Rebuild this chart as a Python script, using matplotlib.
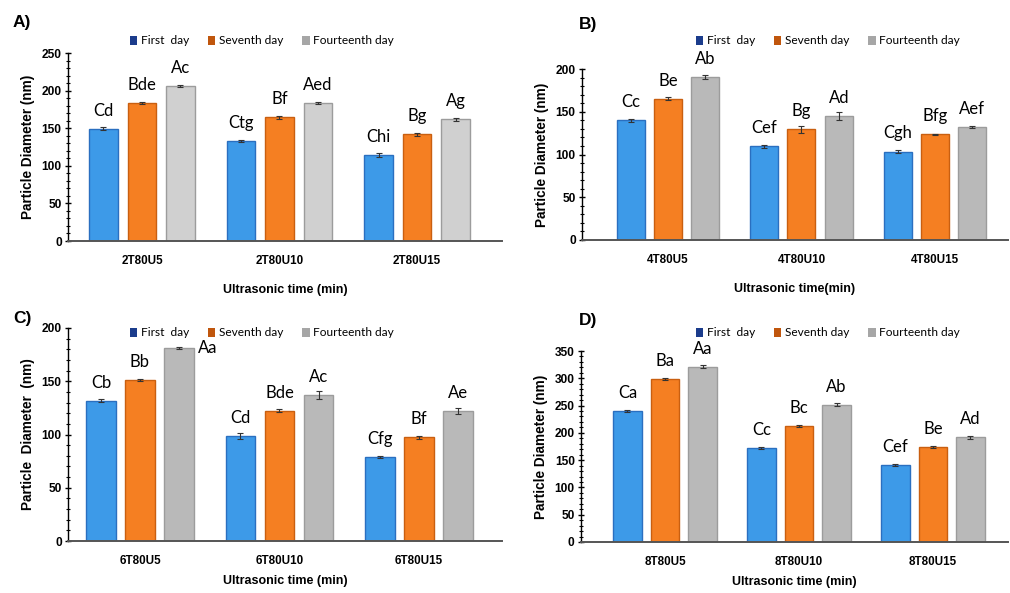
import matplotlib
matplotlib.use("Agg")
import matplotlib.pyplot as plt
from matplotlib.patches import Patch
from matplotlib.ticker import MultipleLocator
import numpy as np

plt.rcParams['font.family'] = ['Liberation Sans', 'DejaVu Sans']

days = ['First  day', 'Seventh day', 'Fourteenth day']

cats_a = ['2T80U5', '2T80U10', '2T80U15']
vals_a = [[149, 132.8, 114.6], [183.4, 164.3, 141.7], [206, 183.4, 161.6]]
errs_a = [[2, 1, 3], [1.5, 1.5, 2.5], [1.5, 1.5, 1.5]]
lets_a = [['Cd', 'Ctg', 'Chi'], ['Bde', 'Bf', 'Bg'], ['Ac', 'Aed', 'Ag']]

cats_b = ['4T80U5', '4T80U10', '4T80U15']
vals_b = [[139.8, 109.4, 103.5], [165.2, 129.7, 123.4], [190.6, 144.9, 132]]
errs_b = [[1.5, 1.5, 2], [1.5, 4, 1], [2, 5, 1.5]]
lets_b = [['Cc', 'Cef', 'Cgh'], ['Be', 'Bg', 'Bfg'], ['Ab', 'Ad', 'Aef']]

cats_c = ['6T80U5', '6T80U10', '6T80U15']
vals_c = [[131.7, 98.7, 79], [150.8, 122.3, 97.5], [181.2, 137.3, 122.3]]
errs_c = [[1.5, 3, 1], [1, 1.5, 1.5], [1, 4, 3]]
lets_c = [['Cb', 'Cd', 'Cfg'], ['Bb', 'Bde', 'Bf'], ['Aa', 'Ac', 'Ae']]

cats_d = ['8T80U5', '8T80U10', '8T80U15']
vals_d = [[240.2, 172, 141.5], [299.4, 212.8, 173.8], [321.3, 251.8, 191.5]]
errs_d = [[2, 2, 2], [2, 2, 2], [3, 2, 2]]
lets_d = [['Ca', 'Cc', 'Cef'], ['Ba', 'Bc', 'Be'], ['Aa', 'Ab', 'Ad']]

bar_cols = ['#3d9ae8', '#f57f22', '#b9b9b9']
edge_cols = ['#2a6fc0', '#c95f10', '#9c9c9c']
leg_cols = ['#1b3c8c', '#c0560d', '#a6a6a6']

fig = plt.figure(figsize=(10.1, 5.93), dpi=100)

W, H = 1010, 593

def make_panel(rect, tag, tagpos, cats, vals, errs, lets, ymax, xlim, xlab,
               ylab, legpos, gray=None, side=(), xpad=12):
    l, t, r, b = rect
    ax = fig.add_axes([l / W, 1 - b / H, (r - l) / W, (b - t) / H])
    x = np.arange(len(cats))
    w, off = 0.21, 0.28
    for i in range(3):
        fc = bar_cols[i] if (i < 2 or gray is None) else gray
        pos = x + (i - 1) * off
        ax.bar(pos, vals[i], w, color=fc, edgecolor=edge_cols[i], linewidth=1.0,
               yerr=errs[i], error_kw=dict(ecolor='#333333', elinewidth=0.8,
                                           capsize=2, capthick=0.8))
        for j in range(len(cats)):
            if (i, j) in side:
                ax.annotate(lets[i][j], xy=(pos[j] + w / 2, vals[i][j]),
                            xytext=(3, 0), textcoords='offset points',
                            ha='left', va='center', fontsize=12,
                            family='Lato', annotation_clip=False)
            else:
                ax.annotate(lets[i][j], xy=(pos[j], vals[i][j]),
                            xytext=(0, 13), textcoords='offset points',
                            ha='center', va='center', fontsize=12,
                            family='Lato', annotation_clip=False)
    ax.set_xlim(*xlim)
    ax.set_ylim(0, ymax)
    ax.set_xticks(x)
    ax.set_xticklabels(cats, fontsize=8.4, fontweight='bold')
    ax.tick_params(axis='x', length=0, pad=10)
    ax.yaxis.set_major_locator(MultipleLocator(50))
    ax.yaxis.set_minor_locator(MultipleLocator(10))
    ax.tick_params(axis='y', which='major', direction='inout', length=5,
                   width=1, labelsize=8.6, pad=2)
    ax.tick_params(axis='y', which='minor', direction='inout', length=3, width=0.8)
    for lab in ax.get_yticklabels():
        lab.set_fontweight('bold')
    ax.spines['top'].set_visible(False)
    ax.spines['right'].set_visible(False)
    ax.spines['bottom'].set_color('#555555')
    ax.spines['bottom'].set_linewidth(1.4)
    ax.spines['left'].set_linewidth(1.0)
    ax.set_xlabel(xlab, fontsize=9, fontweight='bold', labelpad=xpad)
    ax.set_ylabel(ylab, fontsize=9.8, fontweight='bold', labelpad=5)
    handles = [Patch(facecolor=c, edgecolor='none') for c in leg_cols]
    ax.legend(handles, days, loc='center', ncol=3, frameon=False,
              bbox_to_anchor=(legpos[0] / W, 1 - legpos[1] / H),
              bbox_transform=fig.transFigure, handlelength=0.6,
              handleheight=0.7, handletextpad=0.3, columnspacing=1.6,
              prop={'family': 'Lato', 'size': 8.6})
    fig.text(tagpos[0] / W, 1 - tagpos[1] / H, tag, fontsize=12.5,
             fontweight='bold', ha='left', va='center')
    return ax

make_panel((68, 53, 502, 241), 'A)', (13, 23), cats_a, vals_a, errs_a, lets_a,
           250, (-0.538, 2.618), 'Ultrasonic time (min)', 'Particle Diameter (nm)',
           (262, 41), gray='#d0d0d0')
make_panel((582, 69, 1008, 240), 'B)', (579, 24), cats_b, vals_b, errs_b, lets_b,
           200, (-0.644, 2.547), 'Ultrasonic time(min)', 'Particle Diameter (nm)',
           (828, 41))
make_panel((68, 328, 502, 541), 'C)', (13, 318), cats_c, vals_c, errs_c, lets_c,
           200, (-0.516, 2.595), 'Ultrasonic time (min)', 'Particle  Diameter  (nm)',
           (262, 333), side={(2, 0)}, xpad=6)
make_panel((581, 351, 1008, 542), 'D)', (579, 320), cats_d, vals_d, errs_d, lets_d,
           350, (-0.627, 2.56), 'Ultrasonic time (min)', 'Particle Diameter (nm)',
           (828, 333), xpad=6)

fig.savefig('out.png', dpi=100)
